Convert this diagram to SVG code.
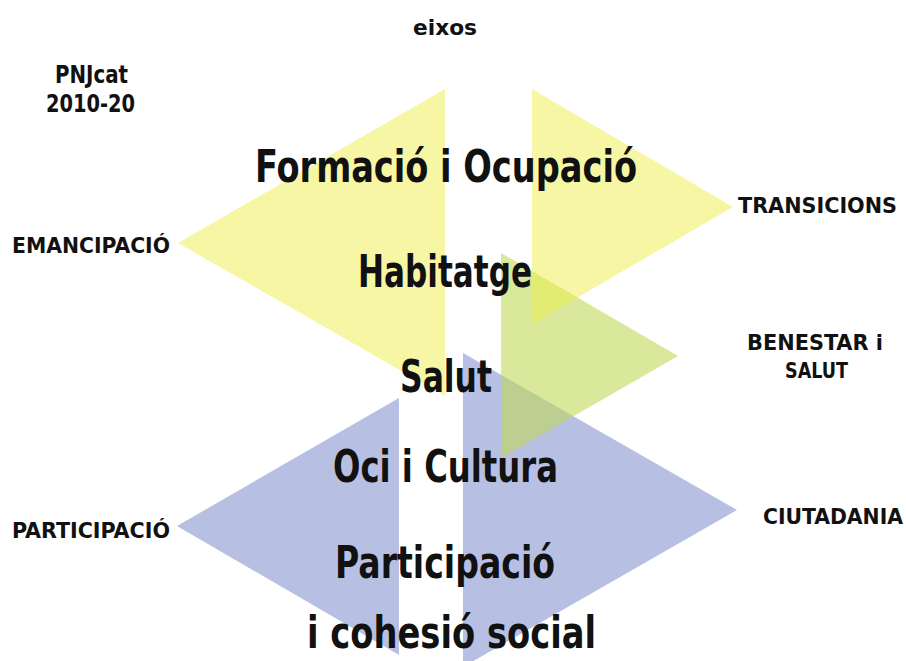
<svg xmlns="http://www.w3.org/2000/svg" width="906" height="661" viewBox="0 0 906 661">
<style>
.t{font-family:"Liberation Sans Narrow","DejaVu Sans Condensed","Liberation Sans",sans-serif;font-weight:bold;fill:#111}
.main{font-size:44px}
.lab{font-size:22px}
.blue{fill:#b7bfe3}
.green{fill:#c0d958;fill-opacity:0.6}
.yellow{fill:#eded49;fill-opacity:0.5}
</style>
<rect width="906" height="661" fill="#ffffff"/>
<g id="shapes">
<polygon id="blue-left" class="blue" points="399,398 177,526 399,655"/>
<polygon id="blue-right" class="blue" points="463,353 737,510 463,667"/>
<polygon id="green-right" class="green" points="501,253 678,356 501,458"/>
<polygon id="yellow-left" class="yellow" points="445,89 178,243 445,396"/>
<polygon id="yellow-right" class="yellow" points="532,89 733,207 532,324"/>
</g>
<g id="axes">
<text class="t main" x="255" y="182" textLength="382" lengthAdjust="spacingAndGlyphs">Formació i Ocupació</text>
<text class="t main" x="358" y="287" textLength="174" lengthAdjust="spacingAndGlyphs">Habitatge</text>
<text class="t main" x="400" y="392" textLength="92" lengthAdjust="spacingAndGlyphs">Salut</text>
<text class="t main" x="333" y="482" textLength="225" lengthAdjust="spacingAndGlyphs">Oci i Cultura</text>
<text class="t main" x="335" y="578" textLength="220" lengthAdjust="spacingAndGlyphs">Participació</text>
<text class="t main" x="307" y="648" textLength="289" lengthAdjust="spacingAndGlyphs">i cohesió social</text>
</g>
<g id="labels">
<text class="t lab" x="413" y="35" textLength="64" lengthAdjust="spacingAndGlyphs">eixos</text>
<text class="t lab" x="55" y="83" textLength="73" lengthAdjust="spacingAndGlyphs" style="font-size:25px">PNJcat</text>
<text class="t lab" x="46" y="112" textLength="89" lengthAdjust="spacingAndGlyphs" style="font-size:25px">2010-20</text>
<text class="t lab" x="12" y="253" textLength="158" lengthAdjust="spacingAndGlyphs">EMANCIPACIÓ</text>
<text class="t lab" x="738" y="213" textLength="159" lengthAdjust="spacingAndGlyphs">TRANSICIONS</text>
<text class="t lab" x="747" y="350" textLength="136" lengthAdjust="spacingAndGlyphs">BENESTAR i</text>
<text class="t lab" x="785" y="378" textLength="63" lengthAdjust="spacingAndGlyphs">SALUT</text>
<text class="t lab" x="12" y="538" textLength="158" lengthAdjust="spacingAndGlyphs">PARTICIPACIÓ</text>
<text class="t lab" x="763" y="524" textLength="140" lengthAdjust="spacingAndGlyphs">CIUTADANIA</text>
</g>
</svg>
